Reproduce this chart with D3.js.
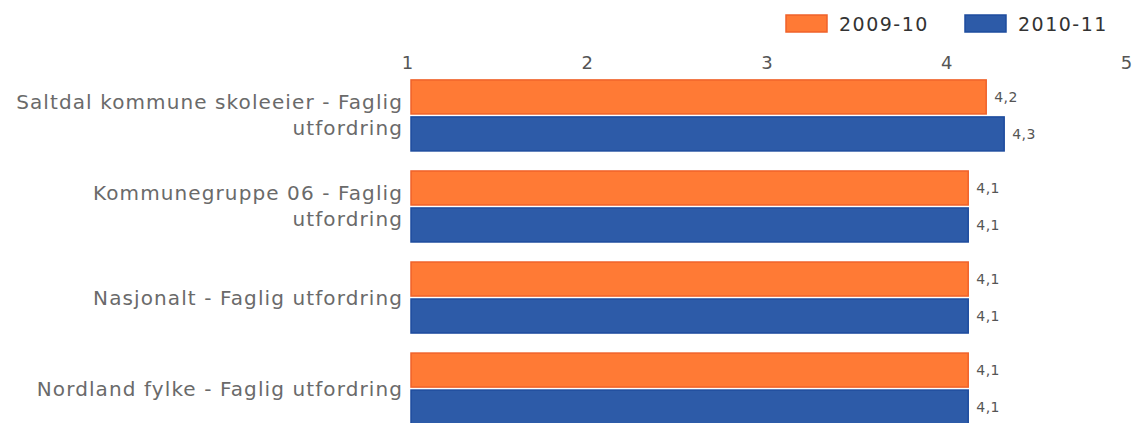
<!DOCTYPE html>
<html>
<head>
<meta charset="utf-8">
<script src="https://cdn.jsdelivr.net/npm/d3@7"></script>
<style>
  body { margin: 0; background: #fff; }
  text { font-family: "DejaVu Sans", sans-serif; }
</style>
</head>
<body>
<script>
// data
var categories = [
  ["Saltdal kommune skoleeier - Faglig", "utfordring"],
  ["Kommunegruppe 06 - Faglig", "utfordring"],
  ["Nasjonalt - Faglig utfordring"],
  ["Nordland fylke - Faglig utfordring"]
];
var seriesNames = ["2009-10", "2010-11"];
var values0910 = [4.2, 4.1, 4.1, 4.1];
var values1011 = [4.3, 4.1, 4.1, 4.1];
var tickValues = [1, 2, 3, 4, 5];

var colors = ["#ff7a35", "#2d5ba8"];
var strokes = ["#f0622a", "#1e4c9e"];

var w = 1139;
var h = 423;

var svg = d3.select("body")
  .append("svg")
  .attr("width", w)
  .attr("height", h);

var x = d3.scaleLinear().domain([1, 5]).range([411, 1130]);

var y = d3.scaleBand()
  .domain(d3.range(categories.length))
  .range([69, 435])
  .paddingInner(0.22)
  .paddingOuter(0.12);

var yInner = d3.scaleBand()
  .domain([0, 1])
  .range([0, y.bandwidth()])
  .paddingInner(0.08);

// x axis labels on top, no line
var xAxis = d3.axisTop(x).tickValues(tickValues).tickFormat(d3.format("d")).tickSize(0).tickPadding(0);
var gx = svg.append("g").attr("transform", "translate(0,69)").call(xAxis);
gx.select(".domain").remove();
gx.selectAll("text")
  .attr("x", -4)
  .attr("dy", 0)
  .attr("font-size", "18px")
  .attr("font-family", "DejaVu Sans")
  .attr("fill", "#555");

// rows
var rows = categories.map(function(c, i) {
  return { label: c, vals: [values0910[i], values1011[i]] };
});

var groups = svg.selectAll("g.row")
  .data(rows)
  .enter()
  .append("g")
  .attr("class", "row")
  .attr("transform", function(d, i) { return "translate(0," + y(i) + ")"; });

groups.selectAll("rect")
  .data(function(d) { return d.vals; })
  .enter()
  .append("rect")
  .attr("x", x(1))
  .attr("y", function(d, j) { return yInner(j); })
  .attr("width", function(d) { return x(d) - x(1); })
  .attr("height", yInner.bandwidth())
  .attr("fill", function(d, j) { return colors[j]; })
  .attr("stroke", function(d, j) { return strokes[j]; })
  .attr("stroke-width", 1.5);

groups.selectAll("text.val")
  .data(function(d) { return d.vals; })
  .enter()
  .append("text")
  .attr("class", "val")
  .attr("x", function(d) { return x(d) + 8; })
  .attr("y", function(d, j) { return yInner(j) + yInner.bandwidth() / 2 + 5; })
  .attr("font-size", "14px")
  .attr("letter-spacing", "0.5px")
  .attr("fill", "#555")
  .text(function(d) { return d3.format(".1f")(d).replace(".", ","); });

// category labels, right aligned next to the bars
groups.append("text")
  .attr("text-anchor", "end")
  .attr("font-size", "20px")
  .attr("letter-spacing", "1.1px")
  .attr("fill", "#6a6a6a")
  .each(function(d) {
    var t = d3.select(this);
    var n = d.label.length;
    var mid = y.bandwidth() / 2 + 7;
    d.label.forEach(function(line, k) {
      t.append("tspan")
        .attr("x", 403)
        .attr("y", mid + (k - (n - 1) / 2) * 26)
        .text(line);
    });
  });

// legend
var legendX = [786, 965];
var legend = svg.selectAll("g.legend")
  .data(seriesNames)
  .enter()
  .append("g")
  .attr("class", "legend")
  .attr("transform", function(d, i) { return "translate(" + legendX[i] + ",15)"; });

legend.append("rect")
  .attr("width", 41)
  .attr("height", 17)
  .attr("fill", function(d, i) { return colors[i]; })
  .attr("stroke", function(d, i) { return strokes[i]; })
  .attr("stroke-width", 1.5);

legend.append("text")
  .attr("x", 53)
  .attr("y", 16)
  .attr("font-size", "19px")
  .attr("letter-spacing", "1.5px")
  .attr("fill", "#333")
  .text(function(d) { return d; });
</script>
</body>
</html>
